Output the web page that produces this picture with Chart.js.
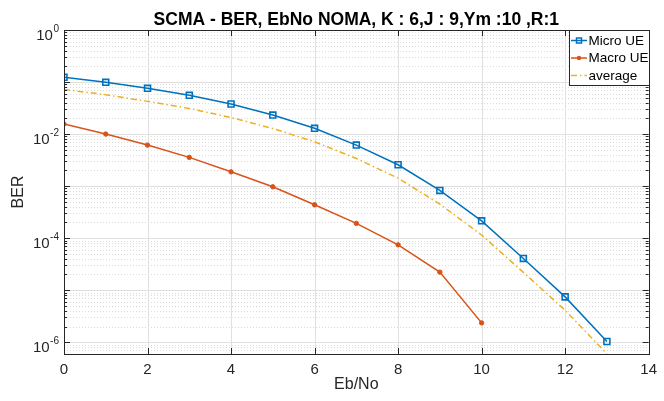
<!DOCTYPE html>
<html>
<head>
<meta charset="utf-8">
<script src="https://cdn.jsdelivr.net/npm/chart.js@4"></script>
<style>
  html, body { margin: 0; padding: 0; background: #fff; }
</style>
</head>
<body>
<canvas id="berChart" width="664" height="401"></canvas>
<script>
// Dati
const ebNo = [0, 1, 2, 3, 4, 5, 6, 7, 8, 9, 10, 11, 12, 13];
const microUE = [0.123, 0.0987, 0.0757, 0.0555, 0.0378, 0.0232, 0.0129, 0.00614, 0.00257, 8.26e-4, 2.15e-4, 4.07e-5, 7.43e-6, 1.03e-6];
const macroUE = [0.0156, 0.0100, 0.00614, 0.00356, 0.00188, 9.7e-4, 4.37e-4, 1.92e-4, 7.43e-5, 2.22e-5, 2.35e-6];
const average = [0.072, 0.057, 0.0425, 0.031, 0.0208, 0.0128, 0.0071, 0.0034, 0.00142, 4.5e-4, 1.15e-4, 2.2e-5, 4.1e-6, 6.0e-7];
const xTicks = [0, 2, 4, 6, 8, 10, 12, 14];
const yDecades = [0, -1, -2, -3, -4, -5, -6];
const yLabelDecades = [0, -2, -4, -6];

const titolo = "SCMA - BER, EbNo NOMA, K : 6,J : 9,Ym :10 ,R:1";
const colBlu = "#0072BD";
const colArancio = "#D95319";
const colGiallo = "#EDB120";
const colAssi = "#262626";
const font = "'Liberation Sans', Arial, Helvetica, sans-serif";

function punti(ys) {
  return ys.map((y, i) => ({ x: ebNo[i], y: y }));
}

// Plugin per disegnare assi, griglia e legenda in stile MATLAB
const stileMatlab = {
  id: "stileMatlab",
  beforeDatasetsDraw(chart) {
    const { ctx, chartArea: a } = chart;
    const xs = chart.scales.x;
    const ys = chart.scales.y;
    ctx.save();
    // griglia minore (punteggiata)
    ctx.strokeStyle = "#dcdcdc";
    ctx.lineWidth = 1;
    ctx.setLineDash([1, 2]);
    for (const d of yDecades) {
      for (let m = 2; m <= 9; m++) {
        const v = m * Math.pow(10, d - 1);
        if (v < ys.min || v > ys.max) continue;
        const py = Math.round(ys.getPixelForValue(v)) + 0.5;
        ctx.beginPath();
        ctx.moveTo(a.left, py);
        ctx.lineTo(a.right, py);
        ctx.stroke();
      }
    }
    // griglia principale
    ctx.setLineDash([]);
    ctx.strokeStyle = "#e0e0e0";
    for (const d of yDecades) {
      const py = Math.round(ys.getPixelForValue(Math.pow(10, d))) + 0.5;
      ctx.beginPath();
      ctx.moveTo(a.left, py);
      ctx.lineTo(a.right, py);
      ctx.stroke();
    }
    for (const t of xTicks) {
      const px = Math.round(xs.getPixelForValue(t)) + 0.5;
      ctx.beginPath();
      ctx.moveTo(px, a.top);
      ctx.lineTo(px, a.bottom);
      ctx.stroke();
    }
    ctx.restore();
  },
  afterDatasetsDraw(chart) {
    const { ctx, chartArea: a } = chart;
    const xs = chart.scales.x;
    const ys = chart.scales.y;
    ctx.save();
    ctx.strokeStyle = colAssi;
    ctx.lineWidth = 1;
    // tacche verso l'interno
    ctx.beginPath();
    for (const t of xTicks) {
      const px = Math.round(xs.getPixelForValue(t)) + 0.5;
      ctx.moveTo(px, a.bottom);
      ctx.lineTo(px, a.bottom - 6);
      ctx.moveTo(px, a.top);
      ctx.lineTo(px, a.top + 6);
    }
    for (const d of yDecades) {
      for (let m = 1; m <= 9; m++) {
        const v = m * Math.pow(10, d);
        if (v < ys.min || v > ys.max) continue;
        const py = Math.round(ys.getPixelForValue(v)) + 0.5;
        const len = m === 1 ? 6 : 3;
        ctx.moveTo(a.left, py);
        ctx.lineTo(a.left + len, py);
        ctx.moveTo(a.right, py);
        ctx.lineTo(a.right - len, py);
      }
    }
    ctx.stroke();
    // cornice
    ctx.strokeRect(Math.round(a.left) + 0.5, Math.round(a.top) + 0.5,
      Math.round(a.right - a.left), Math.round(a.bottom - a.top));

    // etichette asse y: 10^n
    ctx.fillStyle = colAssi;
    for (const d of yLabelDecades) {
      const py = ys.getPixelForValue(Math.pow(10, d));
      const esp = String(d);
      ctx.font = "10px " + font;
      const wEsp = ctx.measureText(esp).width;
      const xEsp = a.left - 5 - wEsp;
      ctx.textAlign = "left";
      ctx.textBaseline = "alphabetic";
      ctx.fillText(esp, xEsp, py + 1.5);
      ctx.font = "15px " + font;
      ctx.textAlign = "right";
      ctx.fillText("10", xEsp - 0.5, py + 10);
    }

    // titoli
    ctx.textAlign = "center";
    ctx.textBaseline = "middle";
    ctx.font = "16px " + font;
    ctx.fillText("Eb/No", (a.left + a.right) / 2, 385);
    ctx.save();
    ctx.translate(19, (a.top + a.bottom) / 2);
    ctx.rotate(-Math.PI / 2);
    ctx.fillText("BER", 0, 0);
    ctx.restore();
    ctx.fillStyle = "#000";
    ctx.font = "bold 17.5px " + font;
    ctx.textBaseline = "alphabetic";
    ctx.fillText(titolo, (a.left + a.right) / 2, 25);

    // legenda
    const lx = 569, ly = Math.round(a.top) + 0.5, lw = Math.round(a.right) - lx, lh = 55;
    ctx.fillStyle = "#fff";
    ctx.fillRect(lx, ly, lw, lh);
    ctx.strokeStyle = colAssi;
    ctx.strokeRect(lx + 0.5, ly, lw, lh);
    const voci = chart.data.datasets;
    voci.forEach((ds, i) => {
      const y = ly + 10 + i * 17.5;
      ctx.strokeStyle = ds.borderColor;
      ctx.lineWidth = 1.5;
      ctx.setLineDash(ds.borderDash || []);
      ctx.beginPath();
      ctx.moveTo(571, y);
      ctx.lineTo(587, y);
      ctx.stroke();
      ctx.setLineDash([]);
      if (ds.pointStyle === "rect") {
        ctx.strokeRect(576.5, y - 2.5, 5, 5);
      } else if (ds.pointRadius > 0) {
        ctx.fillStyle = ds.borderColor;
        ctx.beginPath();
        ctx.arc(579, y, 2.2, 0, Math.PI * 2);
        ctx.fill();
      }
      ctx.fillStyle = "#000";
      ctx.font = "13.5px " + font;
      ctx.textAlign = "left";
      ctx.textBaseline = "middle";
      ctx.fillText(ds.label, 588.5, y + 0.5);
    });
    ctx.restore();
  }
};

const ctx = document.getElementById("berChart").getContext("2d");
const berChart = new Chart(ctx, {
  type: "line",
  data: {
    datasets: [
      {
        label: "Micro UE",
        data: punti(microUE),
        borderColor: colBlu,
        backgroundColor: "rgba(0,0,0,0)",
        borderWidth: 1.5,
        pointStyle: "rect",
        pointRadius: 4.2,
        pointBorderWidth: 1.6,
        tension: 0,
      },
      {
        label: "Macro UE",
        data: punti(macroUE),
        borderColor: colArancio,
        backgroundColor: colArancio,
        borderWidth: 1.5,
        pointStyle: "circle",
        pointRadius: 2.2,
        pointBorderWidth: 1,
        tension: 0,
      },
      {
        label: "average",
        data: punti(average),
        borderColor: colGiallo,
        backgroundColor: colGiallo,
        borderWidth: 1.5,
        borderDash: [6, 3, 1.5, 3],
        pointRadius: 0,
        tension: 0,
      },
    ],
  },
  options: {
    responsive: false,
    animation: false,
    devicePixelRatio: 1,
    layout: { padding: { top: 30, right: 9, left: 0, bottom: 0 } },
    plugins: {
      legend: { display: false },
      title: { display: false },
      tooltip: { enabled: false },
    },
    scales: {
      x: {
        type: "linear",
        min: 0,
        max: 14,
        grid: { display: false, drawTicks: false },
        border: { display: false },
        ticks: {
          stepSize: 2,
          padding: 7,
          color: colAssi,
          font: { family: font, size: 15 },
        },
        afterFit(scale) { scale.height = 47; },
      },
      y: {
        type: "logarithmic",
        min: 5.93e-7,
        max: 1,
        grid: { display: false, drawTicks: false },
        border: { display: false },
        ticks: { display: false },
        afterFit(scale) { scale.width = 64; },
      },
    },
  },
  plugins: [stileMatlab],
});
</script>
</body>
</html>
